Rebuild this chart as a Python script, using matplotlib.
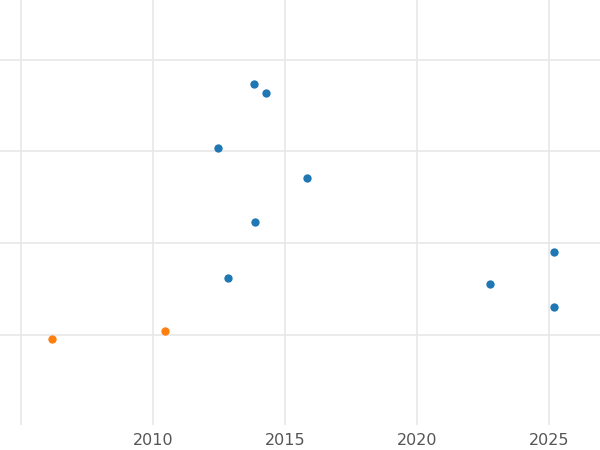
import matplotlib
matplotlib.use("Agg")
import matplotlib.pyplot as plt

blue_x = [2013.83, 2014.28, 2012.46, 2015.83, 2013.86, 2012.84, 2022.77, 2025.19, 2025.19]
blue_y = [3.73, 3.64, 3.04, 2.71, 2.23, 1.62, 1.56, 1.91, 1.31]
orange_x = [2006.17, 2010.45]
orange_y = [0.96, 1.04]
xticks = [2010, 2015, 2020, 2025]

fig = plt.figure(figsize=(6, 4.5), dpi=100)
ax = fig.add_axes([0, 25/450, 1, 425/450])
ax.scatter(blue_x, blue_y, s=36, color="#1f77b4", zorder=3, linewidths=0)
ax.scatter(orange_x, orange_y, s=36, color="#ff7f0e", zorder=3, linewidths=0)
ax.set_xlim(2004.2, 2026.93)
ax.set_ylim(0.02, 4.65)
ax.set_xticks([2005] + xticks, [""] + [str(t) for t in xticks])
ax.set_yticks([1, 2, 3, 4], [])
ax.grid(True, color="#e8e8e8", linewidth=1.2, zorder=0)
ax.tick_params(length=0, labelsize=11.5, labelcolor="#555555", pad=6)
for s in ax.spines.values():
    s.set_visible(False)
fig.savefig("out.png")
